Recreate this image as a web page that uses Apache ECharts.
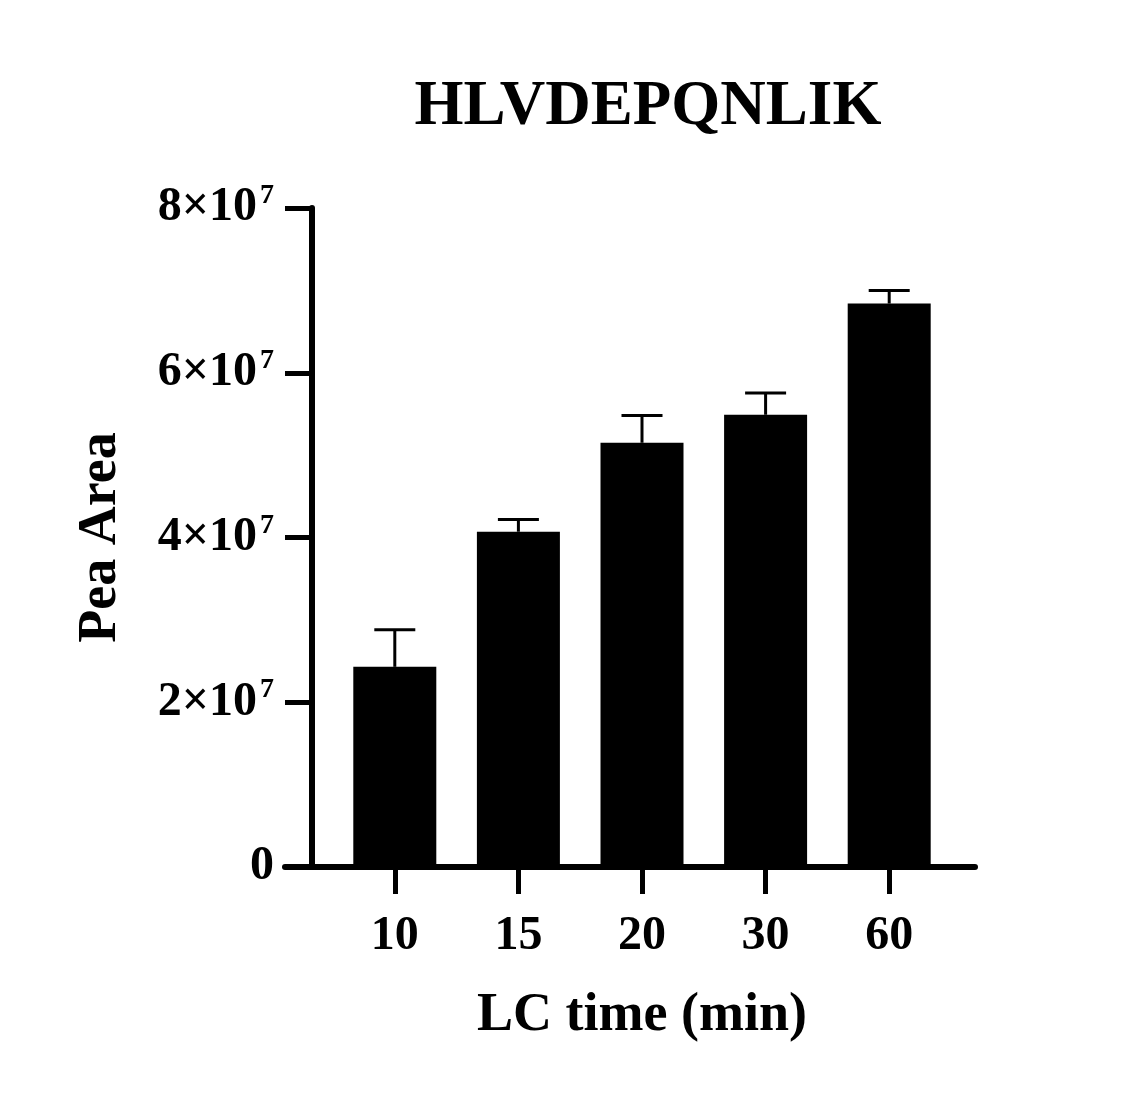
<!DOCTYPE html>
<html><head><meta charset="utf-8">
<script src="https://cdn.jsdelivr.net/npm/echarts@6/dist/echarts.min.js"></script>
<style>html,body{margin:0;padding:0;background:#fff}#c{width:1138px;height:1108px}</style>
</head><body><div id="c"></div>
<script>
const categories = ['10', '15', '20', '30', '60'];
const means = [2.43e7, 4.07e7, 5.15e7, 5.49e7, 6.84e7];
const errors = [0.45e7, 0.15e7, 0.33e7, 0.265e7, 0.16e7];
const yTicks = [0, 2e7, 4e7, 6e7, 8e7];

const FONT = '"Liberation Serif", "Times New Roman", serif';
const chart = echarts.init(document.getElementById('c'));
const gTop = 208, gBottom = 1108 - 867;
chart.setOption({
  backgroundColor: '#fff',
  animation: false,
  title: {
    text: 'HLVDEPQNLIK', left: 643, top: 71, textAlign: 'center',
    textStyle: { fontFamily: FONT, fontWeight: 'bold', fontSize: 63, color: '#000' }
  },
  grid: [
    { left: 333, right: 1138 - 951, top: gTop, bottom: gBottom },
    { left: 285, right: 1138 - 975, top: gTop, bottom: gBottom }
  ],
  xAxis: [
    {
      type: 'category', data: categories, gridIndex: 0,
      axisLine: { show: false },
      axisTick: { show: true, alignWithLabel: true, length: 27, lineStyle: { width: 5, color: '#000' } },
      axisLabel: { margin: 46, fontFamily: FONT, fontWeight: 'bold', fontSize: 48, color: '#000' },
      name: 'LC time (min)', nameLocation: 'middle', nameGap: 122,
      nameTextStyle: { fontFamily: FONT, fontWeight: 'bold', fontSize: 54, color: '#000' }
    },
    {
      type: 'value', gridIndex: 1, min: 0, max: 1,
      axisLine: { show: true, lineStyle: { width: 6, color: '#000' } },
      axisTick: { show: false }, axisLabel: { show: false }, splitLine: { show: false }
    }
  ],
  yAxis: [
    {
      type: 'value', gridIndex: 0, min: yTicks[0], max: yTicks[yTicks.length - 1], interval: 2e7,
      offset: 21,
      axisLine: { show: true, lineStyle: { width: 6, color: '#000' } },
      axisTick: { show: true, length: 27, lineStyle: { width: 5, color: '#000' } },
      splitLine: { show: false },
      axisLabel: {
        margin: 38,
        formatter: function (v) { return v === 0 ? '{a|0}' : '{a|' + (v / 1e7) + '×10}{s|7}'; },
        rich: {
          a: { fontFamily: FONT, fontWeight: 'bold', fontSize: 48, color: '#000', lineHeight: 52 },
          s: { fontFamily: FONT, fontWeight: 'bold', fontSize: 28, color: '#000', lineHeight: 52, padding: [0, 0, 24, 3] }
        }
      },
      name: 'Pea Area', nameLocation: 'middle', nameGap: 184,
      nameTextStyle: { fontFamily: FONT, fontWeight: 'bold', fontSize: 54, color: '#000' }
    },
    { type: 'value', gridIndex: 1, show: false, min: 0, max: 1 }
  ],
  series: [
    {
      type: 'bar', xAxisIndex: 0, yAxisIndex: 0, data: means, barWidth: 83,
      itemStyle: { color: '#000' }, z: 2
    },
    {
      type: 'custom', xAxisIndex: 0, yAxisIndex: 0, z: 3,
      data: means.map((m, i) => [i, m, m + errors[i]]),
      renderItem: function (params, api) {
        const base = api.coord([api.value(0), api.value(1)]);
        const tip = api.coord([api.value(0), api.value(2)]);
        const half = 20.5;
        return {
          type: 'group',
          children: [
            { type: 'line', shape: { x1: base[0], y1: base[1], x2: tip[0], y2: tip[1] }, style: { stroke: '#000', lineWidth: 3 } },
            { type: 'line', shape: { x1: tip[0] - half, y1: tip[1], x2: tip[0] + half, y2: tip[1] }, style: { stroke: '#000', lineWidth: 3 } }
          ]
        };
      }
    }
  ]
});
</script></body></html>
